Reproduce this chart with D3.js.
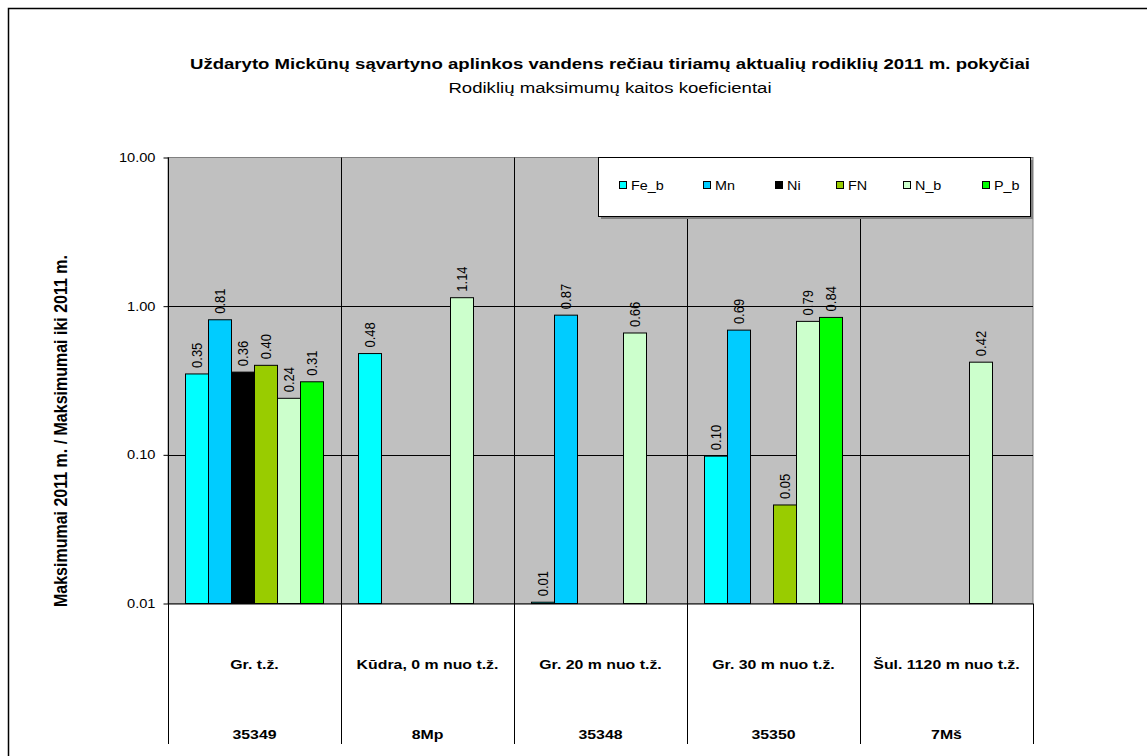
<!DOCTYPE html>
<html>
<head>
<meta charset="utf-8">
<script src="https://cdn.jsdelivr.net/npm/d3@7"></script>
<style>
  body { margin: 0; background: #fff; }
  text { font-family: Arial, "Liberation Sans", sans-serif; fill: #000; }
</style>
</head>
<body>
<div id="main"></div>
<script>
// categories (sampling points) and their codes
const categories = ['Gr. t.ž.', 'Kūdra, 0 m nuo t.ž.', 'Gr. 20 m nuo t.ž.', 'Gr. 30 m nuo t.ž.', 'Šul. 1120 m nuo t.ž.'];
const codes = ['35349', '8Mp', '35348', '35350', '7Mš'];
// series names
const series = ['Fe_b', 'Mn', 'Ni', 'FN', 'N_b', 'P_b'];
// values per series, one per category (null = no bar)
const feB = [0.35, 0.48, 0.0102, 0.098, null];
const mn = [0.81, null, 0.87, 0.69, null];
const ni = [0.36, null, null, null, null];
const fn = [0.40, null, null, 0.046, null];
const nB = [0.24, 1.14, 0.66, 0.79, 0.42];
const pB = [0.31, null, null, 0.84, null];
// y tick values
const yTicks = [0.01, 0.1, 1, 10];

const seriesValues = [feB, mn, ni, fn, nB, pB];
const colors = ['#00ffff', '#00ccff', '#000000', '#99cc00', '#ccffcc', '#00ff00'];

// draws a text stretched horizontally (the reference text is wider than plain Arial)
function wideText(parent, x, y, sx, size, str, bold, anchor) {
  return parent.append('text')
    .attr('transform', `translate(${x},${y}) scale(${sx},1)`)
    .attr('text-anchor', anchor || 'middle')
    .style('font-size', `${size}px`)
    .style('font-weight', bold ? 'bold' : 'normal')
    .text(str);
}

function main() {
  const width = 1147;
  const height = 756;
  const left = 168;
  const right = 1033;
  const top = 157.5;
  const bottom = 603.5;
  const tableBottom = 744;

  const svg = d3.select('#main')
    .append('svg')
    .attr('width', width)
    .attr('height', height);

  // outer chart border
  svg.append('rect')
    .attr('x', 8.5).attr('y', 8.5)
    .attr('width', 1200).attr('height', 800)
    .attr('fill', 'none').attr('stroke', '#000').attr('stroke-width', 1.5);

  // scales
  const x0 = d3.scaleBand().domain(categories).range([left, right]);
  const x1 = d3.scaleBand().domain(series).range([17.5, x0.bandwidth() - 17.5]);
  const y = d3.scaleLog().domain([0.01, 10]).range([bottom, top]);

  // plot background
  svg.append('rect')
    .attr('x', left).attr('y', top)
    .attr('width', right - left).attr('height', bottom - top)
    .attr('fill', '#c0c0c0').attr('stroke', '#808080');

  // horizontal gridlines
  svg.append('g')
    .selectAll('line')
    .data(yTicks.slice(1, -1))
    .join('line')
    .attr('x1', left).attr('x2', right)
    .attr('y1', d => Math.round(y(d)) + 0.5).attr('y2', d => Math.round(y(d)) + 0.5)
    .attr('stroke', '#000');

  // vertical category separators (plot and table)
  svg.append('g')
    .selectAll('line')
    .data(categories.slice(1))
    .join('line')
    .attr('x1', d => Math.round(x0(d)) + 0.5).attr('x2', d => Math.round(x0(d)) + 0.5)
    .attr('y1', top).attr('y2', tableBottom)
    .attr('stroke', '#000');
  svg.append('line')
    .attr('x1', right + 0.5).attr('x2', right + 0.5)
    .attr('y1', bottom).attr('y2', tableBottom)
    .attr('stroke', '#000');

  // bars
  const groups = svg.append('g')
    .selectAll('g')
    .data(series)
    .join('g');
  groups.each(function (s, si) {
    const vals = categories.map((c, ci) => ({ c, s, v: seriesValues[si][ci] })).filter(d => d.v !== null);
    const g = d3.select(this);
    g.selectAll('rect')
      .data(vals)
      .join('rect')
      .attr('x', d => x0(d.c) + x1(d.s))
      .attr('y', d => y(d.v))
      .attr('width', x1.bandwidth())
      .attr('height', d => y(0.01) - y(d.v))
      .attr('fill', colors[si])
      .attr('stroke', '#000')
      .attr('stroke-width', 1);
    // value labels, rotated
    g.selectAll('text')
      .data(vals)
      .join('text')
      .attr('transform', d => `translate(${x0(d.c) + x1(d.s) + x1.bandwidth() / 2 + 5},${y(d.v) - 6}) scale(1.15,1) rotate(-90)`)
      .style('font-size', '13px')
      .text(d => d.v.toFixed(2));
  });

  // y axis
  const tickSx = 1.22;
  const yAxis = d3.axisLeft(y)
    .tickValues(yTicks)
    .tickFormat(d3.format('.2f'))
    .tickSizeOuter(0)
    .tickSizeInner(5)
    .tickPadding(8);
  const ax = svg.append('g')
    .attr('transform', `translate(${left + 0.5},0)`)
    .call(yAxis);
  ax.select('.domain').remove();
  ax.selectAll('line').attr('stroke', '#000');
  ax.selectAll('text')
    .attr('x', -13 / tickSx)
    .attr('transform', `scale(${tickSx},1)`)
    .style('font-size', '12px')
    .style('font-family', 'Arial, "Liberation Sans", sans-serif');
  svg.append('line')
    .attr('x1', left + 0.5).attr('x2', left + 0.5)
    .attr('y1', top).attr('y2', tableBottom)
    .attr('stroke', '#000');
  svg.append('line')
    .attr('x1', left).attr('x2', right)
    .attr('y1', bottom + 0.5).attr('y2', bottom + 0.5)
    .attr('stroke', '#000');

  // table labels
  const table = svg.append('g');
  categories.forEach((c, i) => {
    const cx = x0(c) + x0.bandwidth() / 2;
    wideText(table, cx, 669, 1.22, 13, c, true);
    wideText(table, cx, 739, 1.22, 13, codes[i], true);
  });

  // y axis title
  svg.append('text')
    .attr('transform', 'translate(67,431) scale(1.15,1) rotate(-90)')
    .attr('text-anchor', 'middle')
    .style('font-size', '16px')
    .style('font-weight', 'bold')
    .text('Maksimumai 2011 m. / Maksimumai iki 2011 m.');

  // titles
  svg.append('text')
    .attr('x', 610).attr('y', 69)
    .attr('text-anchor', 'middle')
    .attr('textLength', 840)
    .attr('lengthAdjust', 'spacingAndGlyphs')
    .style('font-size', '15px')
    .style('font-weight', 'bold')
    .text('Uždaryto Mickūnų sąvartyno aplinkos vandens rečiau tiriamų aktualių rodiklių 2011 m. pokyčiai');
  wideText(svg, 610, 93, 1.24, 15, 'Rodiklių maksimumų kaitos koeficientai', false);

  // legend
  const lg = svg.append('g').attr('transform', 'translate(598,157)');
  lg.append('rect').attr('x', 3).attr('y', 3).attr('width', 432).attr('height', 59).attr('fill', '#808080');
  lg.append('rect').attr('x', 0.5).attr('y', 0.5).attr('width', 432).attr('height', 59)
    .attr('fill', '#fff').attr('stroke', '#000');
  const legendX = [21, 105, 177, 238, 305, 384];
  const items = lg.selectAll('g.item')
    .data(series)
    .join('g')
    .attr('class', 'item')
    .attr('transform', (d, i) => `translate(${legendX[i]},28)`);
  items.append('rect')
    .attr('x', 0.5).attr('y', -3.5)
    .attr('width', 7).attr('height', 7)
    .attr('fill', (d, i) => colors[i])
    .attr('stroke', '#000');
  items.each(function (d) {
    wideText(d3.select(this), 12, 5, 1.15, 12.5, d, false, 'start');
  });
}

main();
</script>
</body>
</html>
